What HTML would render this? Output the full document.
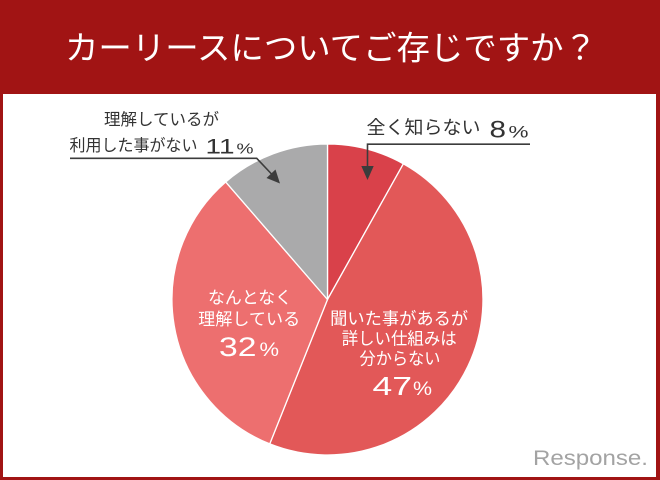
<!DOCTYPE html>
<html>
<head>
<meta charset="utf-8">
<style>
html,body{margin:0;padding:0;}
body{width:660px;height:480px;overflow:hidden;background:#a11414;}
svg{display:block;}
</style>
</head>
<body>
<svg width="660" height="480" viewBox="0 0 660 480" xmlns="http://www.w3.org/2000/svg">
  <rect x="0" y="0" width="660" height="480" fill="#a11414"/>
  <rect x="3" y="94" width="653" height="383" fill="#ffffff"/>

  <text x="331" y="59.5" text-anchor="middle" font-family="'Liberation Sans','Noto Sans CJK JP',sans-serif" font-size="33" fill="#ffffff" textLength="532" lengthAdjust="spacingAndGlyphs">カーリースについてご存じですか？</text>

  <!-- pie -->
  <g stroke="#ffffff" stroke-width="1.3" stroke-linejoin="round">
    <path d="M327.5,299.5 L327.5,144 A155.5,155.5 0 0 1 403.37,163.77 Z" fill="#d9414a"/>
    <path d="M327.5,299.5 L403.37,163.77 A155.5,155.5 0 0 1 269.75,443.88 Z" fill="#e25858"/>
    <path d="M327.5,299.5 L269.75,443.88 A155.5,155.5 0 0 1 225.69,181.96 Z" fill="#ed6f6f"/>
    <path d="M327.5,299.5 L225.69,181.96 A155.5,155.5 0 0 1 327.5,144 Z" fill="#aaaaab"/>
  </g>

  <!-- left inside label -->
  <g font-family="'Liberation Sans','Noto Sans CJK JP',sans-serif" fill="#ffffff">
    <text x="250" y="303.3" text-anchor="middle" font-size="17" textLength="84" lengthAdjust="spacingAndGlyphs">なんとなく</text>
    <text x="249.2" y="325" text-anchor="middle" font-size="17" textLength="102" lengthAdjust="spacingAndGlyphs">理解している</text>
    <text x="219" y="356" font-size="27" textLength="37.5" lengthAdjust="spacingAndGlyphs">32</text>
    <text x="259.5" y="356" font-size="19" textLength="19.5" lengthAdjust="spacingAndGlyphs">%</text>

    <text x="399.2" y="324.5" text-anchor="middle" font-size="17" textLength="138" lengthAdjust="spacingAndGlyphs">聞いた事があるが</text>
    <text x="399.2" y="344.5" text-anchor="middle" font-size="17" textLength="115" lengthAdjust="spacingAndGlyphs">詳しい仕組みは</text>
    <text x="400" y="364.5" text-anchor="middle" font-size="17" textLength="81" lengthAdjust="spacingAndGlyphs">分からない</text>
    <text x="372.5" y="395" font-size="26" textLength="39.5" lengthAdjust="spacingAndGlyphs">47</text>
    <text x="413" y="395" font-size="19" textLength="19" lengthAdjust="spacingAndGlyphs">%</text>
  </g>

  <!-- outside labels -->
  <g font-family="'Liberation Sans','Noto Sans CJK JP',sans-serif" fill="#333333">
    <text x="104" y="125.2" font-size="16.5" textLength="115" lengthAdjust="spacingAndGlyphs">理解しているが</text>
    <text x="69.5" y="151" font-size="16.5" textLength="128" lengthAdjust="spacingAndGlyphs">利用した事がない</text>
    <text x="205.5" y="153.3" font-size="21" textLength="29" lengthAdjust="spacingAndGlyphs">11</text>
    <text x="236.5" y="153.3" font-size="15" textLength="17" lengthAdjust="spacingAndGlyphs">%</text>

    <text x="366.5" y="134" font-size="18.5" textLength="114" lengthAdjust="spacingAndGlyphs">全く知らない</text>
    <text x="489.5" y="137.7" font-size="24.5" textLength="16.5" lengthAdjust="spacingAndGlyphs">8</text>
    <text x="508.5" y="137.7" font-size="17" textLength="20" lengthAdjust="spacingAndGlyphs">%</text>
  </g>

  <!-- leader lines -->
  <g stroke="#3c3c3c" stroke-width="1.6" fill="none">
    <polyline points="70,158.3 256.7,158.3 272,174.5"/>
    <polyline points="530,144.2 367.5,144.2 367.5,168"/>
  </g>
  <g fill="#3c3c3c">
    <polygon points="280,183.5 266.5,178 275.5,169.5"/>
    <polygon points="361.3,166 373.7,166 367.5,180"/>
  </g>

  <!-- watermark -->
  <text x="533" y="465" font-family="'Liberation Sans',sans-serif" font-size="21" fill="#a3a3a3" textLength="115" lengthAdjust="spacingAndGlyphs">Response.</text>
</svg>
</body>
</html>
